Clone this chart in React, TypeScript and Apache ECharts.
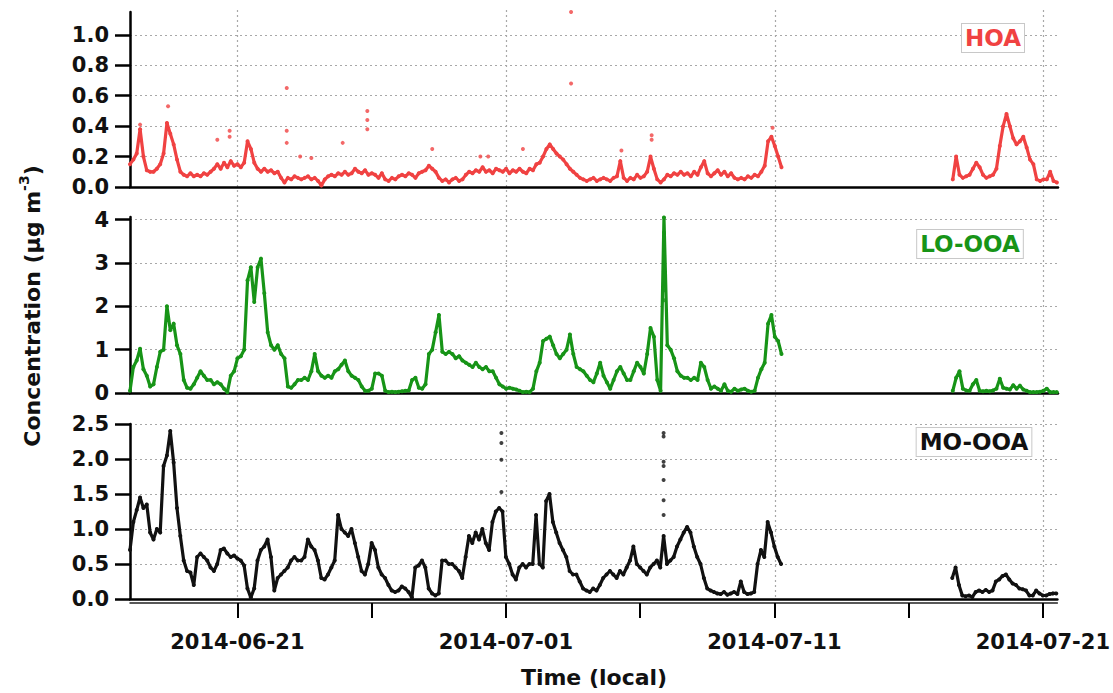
import React, { useEffect, useRef } from "react";
import * as echarts from "echarts";

// Sampling grid: 3-hourly values starting 2014-06-17 00:00 (UTC-based timestamps)
const START = Date.UTC(2014, 5, 17, 0, 0);
const END = Date.UTC(2014, 6, 21, 13, 0);
const STEP_HOURS = 3;
const SEG_B_INDEX = 245; // second campaign segment starts 2014-07-17 15:00

const HOA_A = [
  0.15, 0.18, 0.22, 0.38, 0.2, 0.11, 0.1, 0.1, 0.12, 0.15,
  0.22, 0.42, 0.35, 0.28, 0.18, 0.1, 0.08, 0.07, 0.09, 0.07,
  0.08, 0.07, 0.09, 0.08, 0.1, 0.12, 0.15, 0.12, 0.16, 0.13,
  0.17, 0.14, 0.15, 0.13, 0.16, 0.3, 0.25, 0.16, 0.12, 0.1,
  0.12, 0.1, 0.11, 0.09, 0.1, 0.06, 0.03, 0.06, 0.05, 0.07,
  0.06, 0.05, 0.06, 0.07, 0.05, 0.06, 0.04, 0.01, 0.05, 0.07,
  0.08, 0.07, 0.09, 0.08, 0.1, 0.08, 0.09, 0.12, 0.1, 0.09,
  0.11, 0.08, 0.09, 0.08, 0.06, 0.09, 0.05, 0.04, 0.06, 0.05,
  0.07, 0.08, 0.07, 0.09, 0.08, 0.06, 0.09, 0.1, 0.11, 0.14,
  0.12, 0.1, 0.06, 0.04, 0.05, 0.03, 0.05, 0.06, 0.04, 0.05,
  0.08, 0.1, 0.09, 0.11, 0.1, 0.13, 0.1, 0.11, 0.09, 0.12,
  0.11, 0.1, 0.12, 0.09, 0.11, 0.1, 0.12, 0.1, 0.09, 0.12,
  0.11, 0.15, 0.16, 0.2, 0.25, 0.28, 0.25, 0.22, 0.2, 0.18,
  0.15, 0.12, 0.1, 0.08, 0.06, 0.05, 0.04, 0.05, 0.06, 0.04,
  0.05, 0.06, 0.05, 0.04, 0.06, 0.07, 0.17, 0.06, 0.04, 0.06,
  0.05, 0.08, 0.06, 0.07, 0.1, 0.2, 0.12, 0.05, 0.03, 0.05,
  0.08, 0.07, 0.09, 0.08, 0.1, 0.08, 0.09, 0.07, 0.1, 0.08,
  0.13, 0.17, 0.09, 0.07, 0.09, 0.11, 0.08, 0.1, 0.07, 0.09,
  0.06, 0.05, 0.06, 0.05, 0.07, 0.06, 0.08, 0.07, 0.1, 0.14,
  0.3, 0.33, 0.27, 0.2, 0.13,
];
const HOA_B = [
  0.05, 0.2, 0.08, 0.06, 0.07, 0.08, 0.12, 0.16, 0.13, 0.08,
  0.06, 0.07, 0.08, 0.12, 0.27, 0.4, 0.48, 0.4, 0.32, 0.28,
  0.3, 0.33, 0.26, 0.18, 0.15, 0.05, 0.04, 0.05, 0.05, 0.1,
  0.04, 0.03,
];

const LO_A = [
  0.05, 0.6, 0.75, 1.02, 0.55, 0.4, 0.15, 0.2, 0.6, 0.95,
  1.0, 2.0, 1.45, 1.6, 1.1, 0.9, 0.3, 0.12, 0.1, 0.2,
  0.35, 0.5, 0.4, 0.3, 0.3, 0.2, 0.25, 0.2, 0.1, 0.02,
  0.4, 0.5, 0.8, 0.85, 1.0, 2.6, 2.9, 2.1, 2.9, 3.1,
  2.3, 1.4, 1.1, 1.0, 1.1, 0.9, 0.8, 0.15, 0.12, 0.2,
  0.3, 0.3, 0.35, 0.3, 0.5, 0.9, 0.5, 0.4, 0.35, 0.4,
  0.35, 0.5, 0.55, 0.65, 0.75, 0.5, 0.4, 0.35, 0.3, 0.15,
  0.05, 0.05, 0.1, 0.45, 0.45, 0.4, 0.05, 0.02, 0.03, 0.02,
  0.03, 0.04, 0.05, 0.06, 0.3, 0.35, 0.12, 0.1, 0.2, 0.9,
  1.0, 1.4, 1.8, 0.95, 0.9, 0.95, 0.9, 0.8, 0.85, 0.75,
  0.7, 0.65, 0.6, 0.7, 0.6, 0.55, 0.6, 0.5, 0.5, 0.35,
  0.2, 0.15, 0.1, 0.12, 0.1, 0.08, 0.05, 0.02, 0.03, 0.02,
  0.1, 0.5, 0.7, 1.2, 1.25, 1.3, 1.1, 0.9, 0.8, 0.9,
  1.0, 1.35, 0.9, 0.6, 0.55, 0.5, 0.4, 0.3, 0.25, 0.45,
  0.7, 0.4, 0.25, 0.1, 0.3, 0.5, 0.6, 0.45, 0.3, 0.3,
  0.5, 0.7, 0.6, 0.45, 0.9, 1.5, 1.3, 0.3, 0.05, 4.05,
  1.1, 1.0, 0.8, 0.5, 0.4, 0.35, 0.35, 0.3, 0.35, 0.3,
  0.7, 0.6, 0.3, 0.1, 0.15, 0.1, 0.05, 0.2, 0.05, 0.03,
  0.1, 0.05, 0.08, 0.1, 0.05, 0.03, 0.05, 0.35, 0.55, 0.7,
  1.6, 1.8, 1.3, 1.2, 0.9,
];
const LO_B = [
  0.05, 0.35, 0.5, 0.1, 0.06, 0.05, 0.2, 0.3, 0.05, 0.04,
  0.05, 0.04, 0.06, 0.1, 0.33, 0.12, 0.1, 0.08, 0.18, 0.1,
  0.17, 0.08, 0.05, 0.02, 0.02, 0.02, 0.03, 0.05, 0.1, 0.02,
  0.02, 0.02,
];

const MO_A = [
  0.7, 1.1, 1.27, 1.45, 1.3, 1.35, 0.95, 0.85, 1.0, 0.95,
  1.9, 2.05, 2.4, 1.95, 1.3, 0.9, 0.55, 0.4, 0.38, 0.2,
  0.6, 0.65, 0.6, 0.55, 0.45, 0.4, 0.5, 0.7, 0.72, 0.65,
  0.6, 0.62, 0.58, 0.55, 0.48, 0.15, 0.02, 0.15, 0.55, 0.7,
  0.75, 0.85, 0.6, 0.12, 0.3, 0.35, 0.4, 0.45, 0.55, 0.6,
  0.55, 0.55, 0.6, 0.85, 0.75, 0.7, 0.55, 0.3, 0.28, 0.35,
  0.45, 0.55, 1.2, 1.0, 0.95, 0.9, 1.0, 0.8, 0.6, 0.4,
  0.35, 0.5, 0.8, 0.7, 0.45, 0.35, 0.3, 0.2, 0.12, 0.1,
  0.12, 0.18, 0.15, 0.1, 0.02, 0.45, 0.48, 0.55, 0.45, 0.15,
  0.08, 0.05, 0.08, 0.55, 0.55, 0.5, 0.5, 0.45, 0.4, 0.3,
  0.6, 0.9, 0.8, 0.95, 0.85, 1.0, 0.8, 0.7, 1.1, 1.25,
  1.3, 1.25, 0.6, 0.5, 0.35, 0.28, 0.45, 0.5, 0.45, 0.5,
  0.5, 1.2, 0.5, 0.45, 1.4, 1.5, 1.1, 0.95, 0.8, 0.7,
  0.6, 0.4, 0.35, 0.35, 0.25, 0.15, 0.12, 0.1, 0.15, 0.12,
  0.2, 0.3, 0.35, 0.4, 0.35, 0.3, 0.4, 0.35, 0.45, 0.55,
  0.75, 0.5, 0.45, 0.4, 0.35, 0.45, 0.5, 0.55, 0.45, 0.9,
  0.5, 0.55, 0.6, 0.75, 0.85, 0.95, 1.03, 0.95, 0.75, 0.6,
  0.5, 0.3, 0.15, 0.12, 0.1, 0.08, 0.07, 0.1, 0.06, 0.08,
  0.1, 0.07, 0.25, 0.1, 0.07, 0.08, 0.1, 0.5, 0.7, 0.6,
  1.1, 0.95, 0.75, 0.6, 0.5,
];
const MO_B = [
  0.3, 0.45, 0.2, 0.05, 0.04, 0.05, 0.03, 0.1, 0.12, 0.1,
  0.13, 0.1, 0.12, 0.25, 0.28, 0.33, 0.35, 0.28, 0.22, 0.2,
  0.15, 0.14, 0.12, 0.05, 0.05, 0.12, 0.08, 0.05, 0.05, 0.07,
  0.08, 0.08,
];

// Isolated high readings (local time, value)
const HOA_SPIKES: [string, number][] = [
  ["2014-06-17 09:00", 0.41], ["2014-06-18 10:00", 0.53],
  ["2014-06-20 06:00", 0.31], ["2014-06-20 17:00", 0.37],
  ["2014-06-20 17:00", 0.33], ["2014-06-22 20:00", 0.65],
  ["2014-06-22 20:00", 0.37], ["2014-06-22 20:00", 0.29],
  ["2014-06-23 08:00", 0.2], ["2014-06-23 18:00", 0.19],
  ["2014-06-24 22:00", 0.29], ["2014-06-25 20:00", 0.5],
  ["2014-06-25 20:00", 0.44], ["2014-06-25 20:00", 0.38],
  ["2014-06-28 06:00", 0.25], ["2014-06-30 01:00", 0.2],
  ["2014-06-30 08:00", 0.2], ["2014-07-01 15:00", 0.25],
  ["2014-07-03 10:00", 1.15], ["2014-07-03 10:00", 0.68],
  ["2014-07-05 07:00", 0.24], ["2014-07-06 10:00", 0.34],
  ["2014-07-06 10:00", 0.31], ["2014-07-10 22:00", 0.39],
];
const LO_SPIKES: [string, number][] = [
  ["2014-07-06 21:00", 3.7], ["2014-07-06 21:00", 3.45],
  ["2014-07-06 21:00", 3.3], ["2014-07-06 21:00", 3.0],
  ["2014-07-06 21:00", 2.8], ["2014-07-06 21:00", 2.52],
  ["2014-07-06 21:00", 2.37], ["2014-07-06 21:00", 2.14],
];
const MO_SPIKES: [string, number][] = [
  ["2014-06-30 20:00", 2.37], ["2014-06-30 20:00", 2.23],
  ["2014-06-30 20:00", 1.99], ["2014-06-30 20:00", 1.53],
  ["2014-07-06 21:00", 2.37], ["2014-07-06 21:00", 2.32],
  ["2014-07-06 21:00", 1.96], ["2014-07-06 21:00", 1.9],
  ["2014-07-06 21:00", 1.7], ["2014-07-06 21:00", 1.41],
  ["2014-07-06 21:00", 1.2],
];

const TICK_DATES = ["2014-06-21", "2014-06-26", "2014-07-01", "2014-07-06", "2014-07-11", "2014-07-16", "2014-07-21"];
const LABEL_DATES = ["2014-06-21", "2014-07-01", "2014-07-11", "2014-07-21"];

const HOA_TICKS = [0, 0.2, 0.4, 0.6, 0.8, 1.0];
const LO_TICKS = [0, 1, 2, 3, 4];
const MO_TICKS = [0, 0.5, 1.0, 1.5, 2.0, 2.5];

const COLORS = { hoa: "#f04242", lo: "#179417", mo: "#111111" };
const FONT = "DejaVu Sans";
const HOUR = 3600 * 1000;

function parseStamp(s: string): number {
  const [d, t] = s.split(" ");
  const [y, m, day] = d.split("-").map(Number);
  const [hh, mm] = (t || "00:00").split(":").map(Number);
  return Date.UTC(y, m - 1, day, hh, mm);
}

function buildSeries(a: number[], b: number[]): (number | null)[][] {
  const out: (number | null)[][] = [];
  a.forEach((v, i) => out.push([START + i * STEP_HOURS * HOUR, v]));
  out.push([START + a.length * STEP_HOURS * HOUR, null]);
  b.forEach((v, i) => out.push([START + (SEG_B_INDEX + i) * STEP_HOURS * HOUR, v]));
  return out;
}

function fmtDate(v: number): string {
  return new Date(v).toISOString().slice(0, 10);
}

export default function App() {
  const ref = useRef<HTMLDivElement>(null);

  useEffect(() => {
    if (!ref.current) return;
    const chart = echarts.init(ref.current, undefined, { renderer: "svg" });

    const gridLeft = 130;
    const gridRight = 55;
    const grids = [
      { left: gridLeft, right: gridRight, top: 12, height: 175 },
      { left: gridLeft, right: gridRight, top: 217, height: 176 },
      { left: gridLeft, right: gridRight, top: 424, height: 175 },
      { left: gridLeft, right: gridRight, top: 10, height: 589 },
    ];

    const tickValues = TICK_DATES.map(parseStamp);
    const labelValues = LABEL_DATES.map(parseStamp);

    const blackLine = { show: true, onZero: false, lineStyle: { color: "#000", width: 2.5 } };
    const dotted = { show: true, lineStyle: { color: "#a8a8a8", width: 1.2, type: [2, 3] as any } };

    const plainX = (gridIndex: number) => ({
      type: "value",
      gridIndex,
      min: START,
      max: END,
      position: "bottom",
      axisLine: blackLine,
      axisTick: { show: false },
      axisLabel: { show: false },
      splitLine: { show: false },
    });

    const xAxis: any[] = [
      plainX(0),
      plainX(1),
      plainX(2),
      {
        type: "value",
        gridIndex: 2,
        min: START,
        max: END,
        position: "bottom",
        offset: 4,
        axisLine: { show: true, onZero: false, lineStyle: { color: "#222", width: 1.5 } },
        axisTick: {
          show: true,
          length: 15,
          lineStyle: { color: "#000", width: 2 },
          customValues: tickValues,
        },
        axisLabel: {
          show: true,
          customValues: labelValues,
          formatter: (v: number) => fmtDate(v),
          margin: 28,
          color: "#111",
          fontFamily: FONT,
          fontWeight: "bold",
          fontSize: 21,
        },
        splitLine: { show: false },
      },
      {
        type: "value",
        gridIndex: 3,
        min: START,
        max: END,
        position: "bottom",
        axisLine: { show: false },
        axisTick: { show: false, customValues: labelValues },
        axisLabel: { show: false, customValues: labelValues },
        splitLine: dotted,
      },
    ];

    const panelY = (gridIndex: number, max: number, ticks: number[], digits: number) => ({
      type: "value",
      gridIndex,
      min: 0,
      max,
      axisLine: { show: true, onZero: false, lineStyle: { color: "#000", width: 2.5 } },
      axisTick: { show: true, length: 15, customValues: ticks, lineStyle: { color: "#000", width: 2.5 } },
      axisLabel: {
        show: true,
        customValues: ticks,
        formatter: (v: number) => v.toFixed(digits),
        margin: 21,
        color: "#111",
        fontFamily: FONT,
        fontWeight: "bold",
        fontSize: 21,
      },
      splitLine: dotted,
    });

    const yAxis: any[] = [
      panelY(0, 1.15, HOA_TICKS, 1),
      panelY(1, 4.06, LO_TICKS, 0),
      panelY(2, 2.5, MO_TICKS, 1),
      { type: "value", gridIndex: 3, min: 0, max: 1, show: false, splitLine: { show: false } },
    ];

    const lineSeries = (idx: number, a: number[], b: number[], color: string) => ({
      type: "line",
      xAxisIndex: idx,
      yAxisIndex: idx,
      data: buildSeries(a, b),
      connectNulls: false,
      showSymbol: true,
      showAllSymbol: true,
      symbol: "circle",
      symbolSize: 4,
      itemStyle: { color },
      lineStyle: { color, width: 3.2, join: "round" },
      silent: true,
      z: 3,
    });

    const spikeSeries = (idx: number, pts: [string, number][], color: string) => ({
      type: "scatter",
      xAxisIndex: idx,
      yAxisIndex: idx,
      data: pts.map(([t, v]) => [parseStamp(t), v]),
      symbol: "circle",
      symbolSize: 4,
      itemStyle: { color },
      silent: true,
      z: 3,
    });

    const boxLabel = (text: string, x: number, y: number, color: string) => ({
      type: "text",
      x,
      y,
      z: 10,
      style: {
        text,
        fill: color,
        font: `bold 23px "${FONT}"`,
        align: "center",
        verticalAlign: "middle",
        backgroundColor: "#ffffff",
        borderColor: "#c8c8c8",
        borderWidth: 1,
        padding: [3, 3, 2, 3],
      },
    });

    chart.setOption({
      animation: false,
      backgroundColor: "#ffffff",
      grid: grids,
      xAxis,
      yAxis,
      series: [
        lineSeries(0, HOA_A, HOA_B, COLORS.hoa),
        lineSeries(1, LO_A, LO_B, COLORS.lo),
        lineSeries(2, MO_A, MO_B, COLORS.mo),
        spikeSeries(0, HOA_SPIKES, COLORS.hoa),
        spikeSeries(1, LO_SPIKES, COLORS.lo),
        spikeSeries(2, MO_SPIKES, COLORS.mo),
      ],
      graphic: [
        boxLabel("HOA", 993, 38, COLORS.hoa),
        boxLabel("LO-OOA", 970, 244, COLORS.lo),
        boxLabel("MO-OOA", 974, 442, COLORS.mo),
        {
          type: "text",
          x: 594,
          y: 677,
          style: {
            text: "Time (local)",
            fill: "#111",
            font: `bold 22px "${FONT}"`,
            align: "center",
            verticalAlign: "middle",
          },
        },
        {
          type: "text",
          x: 32,
          y: 306,
          rotation: Math.PI / 2,
          style: {
            text: "{a|Concentration (µg m}{s|-3}{a|)}",
            align: "center",
            verticalAlign: "middle",
            rich: {
              a: { fontFamily: FONT, fontWeight: "bold", fontSize: 22, fill: "#111", lineHeight: 30 },
              s: { fontFamily: FONT, fontWeight: "bold", fontSize: 14, fill: "#111", verticalAlign: "top", lineHeight: 30 },
            },
          },
        },
      ],
    });

    return () => chart.dispose();
  }, []);

  return (
    <div
      ref={ref}
      style={{ position: "fixed", left: 0, top: 0, width: 1113, height: 693, background: "#fff" }}
    />
  );
}
